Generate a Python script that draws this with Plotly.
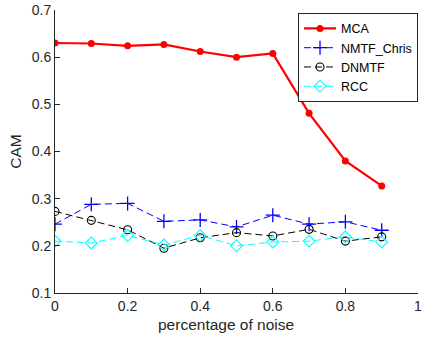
import plotly.graph_objects as go

noise = [0, 0.1, 0.2, 0.3, 0.4, 0.5, 0.6, 0.7, 0.8, 0.9]
mca = [0.630, 0.629, 0.624, 0.627, 0.612, 0.600, 0.608, 0.481, 0.380, 0.327]
nmtf_chris = [0.246, 0.288, 0.290, 0.252, 0.255, 0.240, 0.265, 0.246, 0.251, 0.233]
dnmtf = [0.273, 0.254, 0.234, 0.195, 0.217, 0.228, 0.221, 0.235, 0.210, 0.219]
rcc = [0.210, 0.206, 0.222, 0.202, 0.222, 0.200, 0.208, 0.210, 0.219, 0.208]

xticks = [0, 0.2, 0.4, 0.6, 0.8, 1]
xticklabels = ["0", "0.2", "0.4", "0.6", "0.8", "1"]
yticks = [0.1, 0.2, 0.3, 0.4, 0.5, 0.6, 0.7]
yticklabels = ["0.1", "0.2", "0.3", "0.4", "0.5", "0.6", "0.7"]

FONT = "Arial, Liberation Sans, sans-serif"
AX = "#262626"

fig = go.Figure()
fig.add_trace(go.Scatter(x=noise, y=mca, name="MCA", mode="lines+markers",
                         line=dict(color="#ff0000", width=2.2),
                         marker=dict(symbol="circle", size=7, color="#ff0000")))
fig.add_trace(go.Scatter(x=noise, y=nmtf_chris, name="NMTF_Chris", mode="lines+markers",
                         line=dict(color="#0000ff", width=1, dash="7px,4px"),
                         marker=dict(symbol="cross-thin-open", size=10,
                                     line=dict(color="#0000ff", width=1.3))))
fig.add_trace(go.Scatter(x=noise, y=dnmtf, name="DNMTF", mode="lines+markers",
                         line=dict(color="#000000", width=1, dash="7px,4px"),
                         marker=dict(symbol="circle-open", size=8, color="#000000",
                                     line=dict(width=1.1))))
fig.add_trace(go.Scatter(x=noise, y=rcc, name="RCC", mode="lines+markers",
                         line=dict(color="#00ffff", width=1, dash="7px,4px"),
                         marker=dict(symbol="diamond-open", size=9, color="#00ffff",
                                     line=dict(width=1.1))))

axis_common = dict(showline=True, linecolor=AX, linewidth=1,
                   ticks="inside", ticklen=5, tickcolor=AX,
                   showgrid=False, zeroline=False, mirror=False,
                   ticklabeloverflow="allow",
                   tickfont=dict(family=FONT, size=14, color=AX))

fig.update_layout(
    width=424, height=339,
    margin=dict(l=55, r=2, t=6, b=46),
    paper_bgcolor="white", plot_bgcolor="white",
    font=dict(family=FONT, color=AX),
    xaxis=dict(range=[0, 1], tickvals=xticks, ticktext=xticklabels, **axis_common),
    yaxis=dict(range=[0.1, 0.7], tickvals=yticks, ticktext=yticklabels,
               title=dict(text="CAM", font=dict(size=15.5, color=AX), standoff=6),
               **axis_common),
    legend=dict(x=1.0, y=0.99, xanchor="right", yanchor="top",
                bgcolor="white", bordercolor=AX, borderwidth=1, itemwidth=32,
                font=dict(size=12.5, color="#000000"), tracegroupgap=0),
    showlegend=True,
    annotations=[dict(text="percentage of noise", xref="paper", yref="paper",
                      x=0.470, y=-0.111, xanchor="center", yanchor="middle",
                      showarrow=False, font=dict(size=15.5, color=AX, family=FONT))],
)

fig.write_html("out.html")
